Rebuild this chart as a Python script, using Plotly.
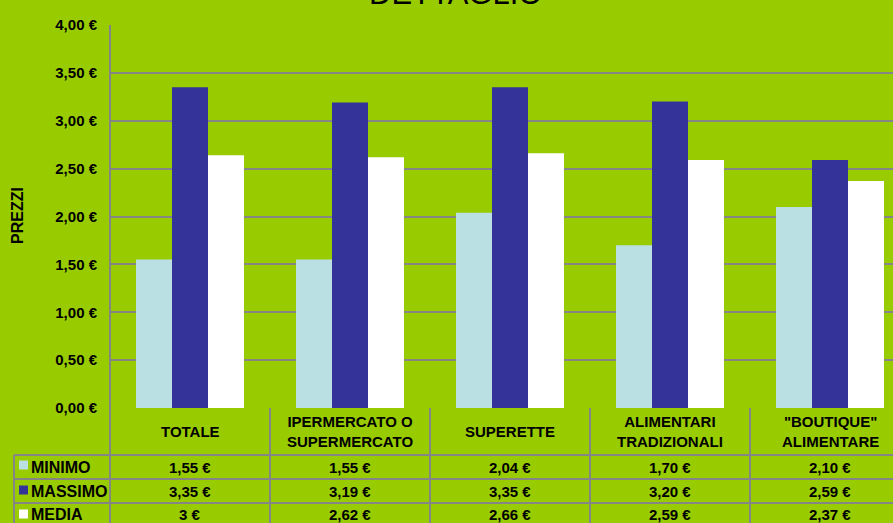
import plotly.graph_objects as go

categories = ["TOTALE", "IPERMERCATO O<br>SUPERMERCATO", "SUPERETTE",
              "ALIMENTARI<br>TRADIZIONALI", "\"BOUTIQUE\"<br>ALIMENTARE"]
minimo = [1.55, 1.55, 2.04, 1.70, 2.10]
massimo = [3.35, 3.19, 3.35, 3.20, 2.59]
media = [2.64, 2.62, 2.66, 2.59, 2.37]
minimo_txt = ["1,55 €", "1,55 €", "2,04 €", "1,70 €", "2,10 €"]
massimo_txt = ["3,35 €", "3,19 €", "3,35 €", "3,20 €", "2,59 €"]
media_txt = ["3 €", "2,62 €", "2,66 €", "2,59 €", "2,37 €"]
series_names = ["MINIMO", "MASSIMO", "MEDIA"]
colors = ["#BBE0E3", "#333399", "#FFFFFF"]

BG = "#99CC00"
GRID = "#858585"
FONT = "Liberation Sans, Arial, sans-serif"

W, H = 893, 523
L, T, B = 110, 25, 115
PW, PH = W - L, H - T - B


def px(X):
    return (X - L) / PW


def py(Y):
    return (H - B - Y) / PH


idx = list(range(len(categories)))
fig = go.Figure()
for name, vals, col in zip(series_names, [minimo, massimo, media], colors):
    fig.add_trace(go.Bar(x=idx, y=vals, name=name, marker=dict(color=col, line=dict(width=0)),
                         showlegend=False, hoverinfo="skip"))

shapes = []
line = dict(color=GRID, width=2)
for Y in [455, 479, 503]:
    shapes.append(dict(type="line", xref="paper", yref="paper", x0=px(14), x1=1.02,
                       y0=py(Y), y1=py(Y), line=line))
shapes.append(dict(type="line", xref="paper", yref="paper", x0=px(14), x1=px(14),
                   y0=py(455), y1=py(530), line=line))
shapes.append(dict(type="line", xref="paper", yref="paper", x0=0, x1=0,
                   y0=1, y1=py(530), line=line))
for i in idx[:-1]:
    shapes.append(dict(type="line", xref="x", yref="paper", x0=i + 0.5, x1=i + 0.5,
                       y0=0, y1=py(530), line=line))
key_centers = [465, 490, 514]
for Yc, col in zip(key_centers, colors):
    shapes.append(dict(type="rect", xref="paper", yref="paper", x0=px(19), x1=px(28),
                       y0=py(Yc - 4.5), y1=py(Yc + 4.5), fillcolor=col, line=dict(width=0)))

ann = []
tf = dict(family=FONT, size=15, color="black")
for i, c in enumerate(categories):
    ann.append(dict(x=i, y=py(431), xref="x", yref="paper",
                    text="<b>" + c.replace("<br>", "</b><br><b>") + "</b>",
                    showarrow=False, font=tf, xanchor="center", yanchor="middle", align="center"))
row_centers = [467, 491, 514]
for Yc, txts in zip(row_centers, [minimo_txt, massimo_txt, media_txt]):
    for i, t in enumerate(txts):
        ann.append(dict(x=i, y=py(Yc), xref="x", yref="paper", text="<b>" + t + "</b>",
                        showarrow=False, font=tf, xanchor="center", yanchor="middle"))
for Yc, name in zip(row_centers, series_names):
    ann.append(dict(x=px(29), y=py(Yc), xref="paper", yref="paper", text="<b>" + name + "</b>",
                    showarrow=False, font=dict(family=FONT, size=16, color="black"),
                    xanchor="left", yanchor="middle"))
ann.append(dict(x=px(17), y=py(216), xref="paper", yref="paper", text="<b>PREZZI</b>",
                textangle=-90, showarrow=False, font=dict(family=FONT, size=16, color="black"),
                xanchor="center", yanchor="middle"))
ann.append(dict(x=px(455), y=py(13), xref="paper", yref="paper", text="DETTAGLIO",
                showarrow=False, font=dict(family=FONT, size=31, color="black"),
                xanchor="center", yanchor="bottom"))

fig.update_layout(
    width=W, height=H,
    margin=dict(l=L, r=0, t=T, b=B, pad=0),
    paper_bgcolor=BG, plot_bgcolor=BG,
    barmode="group", bargap=0.325, bargroupgap=0,
    separators=", ",
    font=dict(family=FONT, size=15, color="black"),
    shapes=shapes, annotations=ann,
    hovermode=False,
    xaxis=dict(range=[-0.5, 4.5 - 17 / 160], showticklabels=False, showgrid=False,
               zeroline=False, showline=False, fixedrange=True),
    yaxis=dict(range=[0, 4], dtick=0.5, tickformat=".2f", ticksuffix=" €",
               showgrid=True, gridcolor=GRID, gridwidth=2, zeroline=False,
               showline=False, ticklabelstandoff=12, fixedrange=True,
               tickfont=dict(family=FONT, size=15, color="black", weight="bold")),
)
fig.write_html("out.html", config={"displayModeBar": False},
               post_script="document.body.style.margin='0';document.body.style.overflow='hidden';")
